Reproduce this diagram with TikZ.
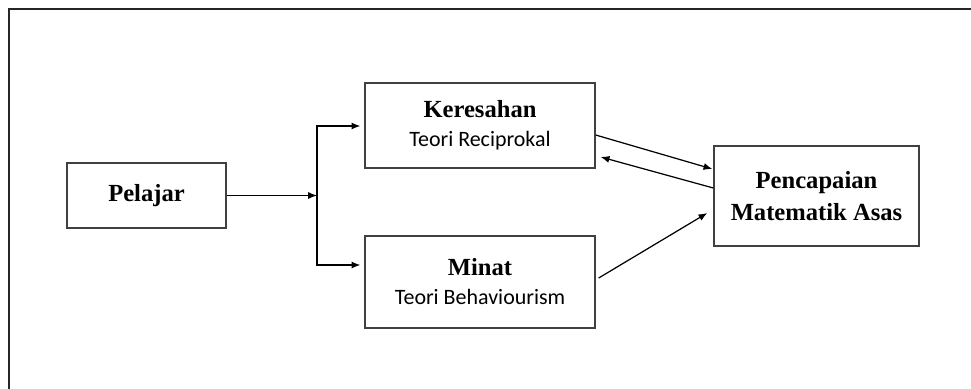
\documentclass[tikz,border=0pt]{standalone}
\usepackage{fontspec}
\setmainfont{Liberation Serif}
\newfontfamily\calfont{Carlito}
\usetikzlibrary{arrows.meta,positioning,calc}

\begin{document}
\begin{tikzpicture}[
      x=0.02cm, y=-0.02cm,
      box/.style={draw=black!75, line width=0.8pt, align=center, inner sep=0pt,
        font=\fontsize{14}{16.5}\selectfont},
      conn/.style={line width=0.7pt, -{Latex[length=5pt,width=4pt]}},
      >=Latex
    ]
      \useasboundingbox (0,0) rectangle (971,389);
      % frame (top and left only)
      \draw[line width=1.1pt, black!85] (9,389) -- (9,9) -- (971,9);

      % boxes
      \node[box, minimum width=3.18cm, minimum height=1.3cm] (pel) at (146.5,195.5)
        {\bfseries Pelajar};
      \node[box, minimum width=4.6cm, minimum height=1.7cm] (ker) at (480,125.5)
        {\textbf{Keresahan}\\
         {\calfont\fontsize{12.5}{16.5}\selectfont Teori Reciprokal}};
      \node[box, minimum width=4.6cm, minimum height=1.84cm] (min) at (480,282)
        {\textbf{Minat}\\
         {\calfont\fontsize{12.5}{16.5}\selectfont Teori Behaviourism}};
      \node[box, minimum width=4.1cm, minimum height=2cm, font=\bfseries\fontsize{14}{18}\selectfont]
        (pen) at (816.5,196) {Pencapaian\\Matematik Asas};

      % branch
      \coordinate (br) at (317,195.5);
      \coordinate (brT) at (317,126);
      \coordinate (brB) at (317,265);
      \draw[conn] (pel.east) -- (br);
      \draw[conn] (br) -- (brT) -- ([xshift=-0.08cm]ker.west |- brT);
      \draw[conn] (br) -- (brB) -- ([xshift=-0.08cm]min.west |- brB);

      % to result
      \draw[conn] ([yshift=-0.19cm]ker.east) -- ([xshift=-0.02cm,yshift=0.54cm]pen.west);
      \draw[conn] ([yshift=0.16cm]pen.west) -- ([xshift=0.1cm,yshift=-0.63cm]ker.east);
      \draw[conn] ([xshift=0.06cm,yshift=0.08cm]min.east) -- ([xshift=-0.12cm,yshift=-0.34cm]pen.west);
\end{tikzpicture}
\end{document}
